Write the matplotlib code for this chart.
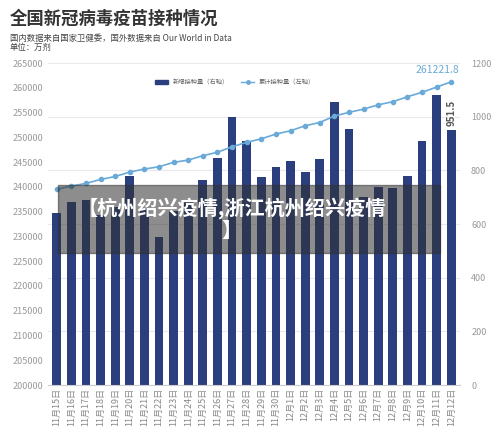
import matplotlib
matplotlib.use("Agg")
import matplotlib.pyplot as plt
from matplotlib.patches import Rectangle
from matplotlib.lines import Line2D

plt.rcParams['font.family'] = ['Noto Sans CJK SC', 'DejaVu Sans']

dates = ["11月15日","11月16日","11月17日","11月18日","11月19日","11月20日","11月21日","11月22日",
         "11月23日","11月24日","11月25日","11月26日","11月27日","11月28日","11月29日","11月30日",
         "12月1日","12月2日","12月3日","12月4日","12月5日","12月6日","12月7日","12月8日",
         "12月9日","12月10日","12月11日","12月12日"]
daily = [642, 682, 690, 634, 664, 779, 660, 551, 650, 690, 766, 847, 1000, 910, 774, 813,
         836, 795, 841, 1056, 955, 700, 739, 735, 779, 910, 1081, 951.5]
cumulative = [239500, 240170, 240700, 241500, 242100, 243000, 243600, 244070, 244950, 245420,
              246300, 247000, 248100, 249000, 249700, 250670, 251330, 252340, 253000, 254300,
              255050, 255700, 256570, 257200, 258200, 259100, 260150, 261221.8]

fig = plt.figure(figsize=(5, 4.38), dpi=100)
ax = fig.add_axes([0.096, 0.121, 0.824, 0.735])
ax2 = ax.twinx()
ax.set_zorder(ax2.get_zorder() + 1)
ax.patch.set_visible(False)

x = range(len(dates))
bar_c = '#2b3f7e'
line_c = '#6aaad8'
ax2.set_axisbelow(True)
ax2.grid(axis='y', color='#e8e8ee', lw=0.8, zorder=0)
ax2.bar(x, daily, width=0.6, color=bar_c, zorder=2)
ax2.set_ylim(0, 1200)
ax2.set_yticks(range(0, 1201, 200))
ax.plot(x, cumulative, color=line_c, marker='o', markersize=3, lw=1.2)
ax.set_ylim(200000, 265000)
ax.set_yticks(range(200000, 265001, 5000))
ax.set_xlim(-0.6, len(dates) - 0.4)
ax.set_xticks(list(x))
ax.set_xticklabels(dates, rotation=90, fontsize=6.5, color='#888888')
ax.tick_params(axis='y', labelsize=6.5, colors='#999999', length=0)
ax2.tick_params(axis='y', labelsize=6.5, colors='#999999', length=0, pad=8)
ax.tick_params(axis='x', length=0, pad=2)
for a in (ax, ax2):
    for s in a.spines.values():
        s.set_visible(False)
ax.spines['bottom'].set_visible(True)
ax.spines['bottom'].set_color('#cccccc')

ax.annotate(f"{cumulative[-1]:.1f}", (x[-1], cumulative[-1]), xytext=(-10, 5), textcoords='offset points',
            ha='center', va='bottom', fontsize=7.5, color=line_c)
ax2.annotate(f"{daily[-1]}", (x[-1], daily[-1]), xytext=(0, 3), textcoords='offset points',
             ha='center', va='bottom', fontsize=7, color='#555555', rotation=90, fontweight='bold')

handles = [Rectangle((0, 0), 1, 1, color=bar_c),
           Line2D([], [], color=line_c, marker='o', markersize=2.5, lw=1)]
fig.legend(handles, ["新增接种量（右轴）", "累计接种量（左轴）"], loc='center', bbox_to_anchor=(0.47, 0.812),
           ncol=2, frameon=False, fontsize=4.5, labelcolor='#666666', handlelength=2)

fig.text(0.02, 0.958, "全国新冠病毒疫苗接种情况", fontsize=12.5, fontweight='bold', color='#333333', va='center')
fig.text(0.02, 0.912, "国内数据来自国家卫健委，国外数据来自 Our World in Data", fontsize=6, color='#444444', va='center')
fig.text(0.02, 0.892, "单位：万剂", fontsize=6, color='#444444', va='center')

fig.patches.append(Rectangle((0.116, 0.422), 0.764, 0.155, transform=fig.transFigure,
                             color='#303030', alpha=0.55, zorder=10))
fig.text(0.155, 0.5, "【杭州绍兴疫情,浙江杭州绍兴疫情\n】", fontsize=14.5, fontweight='bold', color='white',
         ha='left', va='center', zorder=11, linespacing=1.0, multialignment='center')

fig.savefig("out.png", dpi=100)
